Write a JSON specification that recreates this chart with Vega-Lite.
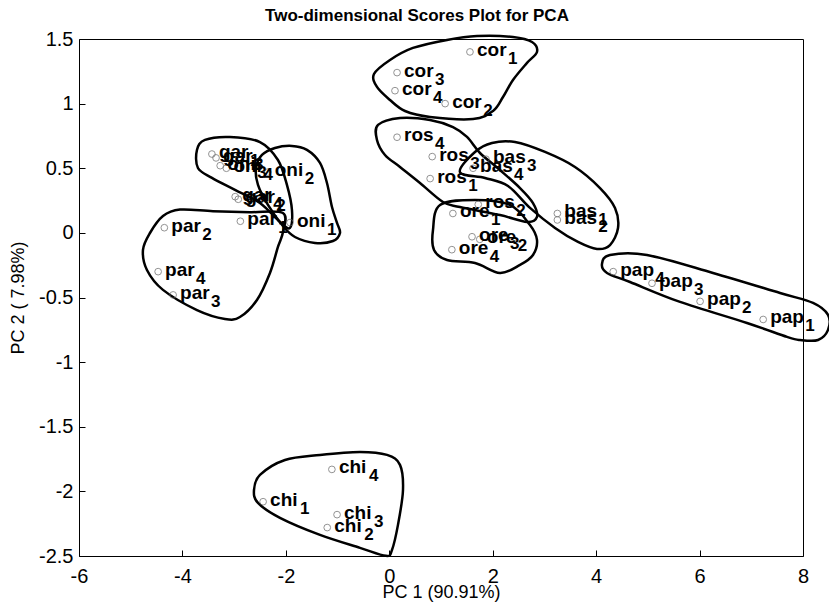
{
  "$schema": "https://vega.github.io/schema/vega-lite/v6.json",
  "width": 724,
  "height": 517,
  "autosize": {"type": "none"},
  "padding": {"left": 79, "top": 39, "right": 26, "bottom": 51},
  "background": "white",
  "title": {"text": "Two-dimensional Scores Plot for PCA", "font": "Liberation Sans", "fontSize": 17, "fontWeight": "bold", "color": "black", "offset": 4, "dx": -24},
  "config": {
    "view": {"stroke": "black", "strokeWidth": 1},
    "axis": {"grid": false, "domain": false, "tickColor": "black", "tickSize": -6, "tickWidth": 1, "labelFont": "Liberation Sans", "labelFontSize": 20, "labelColor": "black", "titleFont": "Liberation Sans", "titleFontSize": 18, "titleFontWeight": "normal", "titleColor": "black", "labelFlush": false}
  },
  "datasets": {
    "pts": [
      {"g": "cor", "s": "1", "x": 1.56, "y": 1.40},
      {"g": "cor", "s": "3", "x": 0.15, "y": 1.24},
      {"g": "cor", "s": "4", "x": 0.11, "y": 1.10},
      {"g": "cor", "s": "2", "x": 1.08, "y": 1.00},
      {"g": "ros", "s": "4", "x": 0.15, "y": 0.74},
      {"g": "ros", "s": "3", "x": 0.83, "y": 0.59},
      {"g": "ros", "s": "1", "x": 0.79, "y": 0.42},
      {"g": "ros", "s": "2", "x": 1.72, "y": 0.22},
      {"g": "bas", "s": "3", "x": 1.87, "y": 0.57},
      {"g": "bas", "s": "4", "x": 1.62, "y": 0.50},
      {"g": "bas", "s": "1", "x": 3.25, "y": 0.15},
      {"g": "bas", "s": "2", "x": 3.25, "y": 0.10},
      {"g": "ore", "s": "1", "x": 1.23, "y": 0.15},
      {"g": "ore", "s": "3", "x": 1.60, "y": -0.03},
      {"g": "ore", "s": "2", "x": 1.75, "y": -0.05},
      {"g": "ore", "s": "4", "x": 1.21, "y": -0.13},
      {"g": "pap", "s": "4", "x": 4.33, "y": -0.30},
      {"g": "pap", "s": "3", "x": 5.08, "y": -0.39},
      {"g": "pap", "s": "2", "x": 6.01, "y": -0.53},
      {"g": "pap", "s": "1", "x": 7.23, "y": -0.67},
      {"g": "chi", "s": "4", "x": -1.11, "y": -1.83},
      {"g": "chi", "s": "1", "x": -2.44, "y": -2.08},
      {"g": "chi", "s": "3", "x": -1.01, "y": -2.18},
      {"g": "chi", "s": "2", "x": -1.20, "y": -2.28},
      {"g": "par", "s": "2", "x": -4.35, "y": 0.04},
      {"g": "par", "s": "4", "x": -4.47, "y": -0.30},
      {"g": "par", "s": "3", "x": -4.18, "y": -0.48},
      {"g": "par", "s": "1", "x": -2.88, "y": 0.09},
      {"g": "oni", "s": "1", "x": -1.92, "y": 0.08},
      {"g": "oni", "s": "2", "x": -2.35, "y": 0.47},
      {"g": "oni", "s": "3", "x": -3.27, "y": 0.52},
      {"g": "oni", "s": "4", "x": -3.15, "y": 0.50},
      {"g": "gar", "s": "1", "x": -3.43, "y": 0.61},
      {"g": "gar", "s": "3", "x": -3.35, "y": 0.58},
      {"g": "gar", "s": "2", "x": -2.92, "y": 0.26},
      {"g": "gar", "s": "4", "x": -2.98, "y": 0.28}
    ],
    "ol": [
      {"o": "cor", "i": 0, "x": -0.296, "y": 1.229},
      {"o": "cor", "i": 1, "x": 0.014, "y": 1.338},
      {"o": "cor", "i": 2, "x": 0.458, "y": 1.431},
      {"o": "cor", "i": 3, "x": 1.116, "y": 1.493},
      {"o": "cor", "i": 4, "x": 1.696, "y": 1.523},
      {"o": "cor", "i": 5, "x": 2.392, "y": 1.516},
      {"o": "cor", "i": 6, "x": 2.760, "y": 1.477},
      {"o": "cor", "i": 7, "x": 2.856, "y": 1.400},
      {"o": "cor", "i": 8, "x": 2.663, "y": 1.315},
      {"o": "cor", "i": 9, "x": 2.392, "y": 1.183},
      {"o": "cor", "i": 10, "x": 2.199, "y": 1.051},
      {"o": "cor", "i": 11, "x": 2.006, "y": 0.943},
      {"o": "cor", "i": 12, "x": 1.619, "y": 0.881},
      {"o": "cor", "i": 13, "x": 0.787, "y": 0.897},
      {"o": "cor", "i": 14, "x": 0.304, "y": 0.943},
      {"o": "cor", "i": 15, "x": 0.014, "y": 1.028},
      {"o": "cor", "i": 16, "x": -0.238, "y": 1.129},

      {"o": "ros", "i": 0, "x": -0.218, "y": 0.835},
      {"o": "ros", "i": 1, "x": 0.207, "y": 0.889},
      {"o": "ros", "i": 2, "x": 0.787, "y": 0.874},
      {"o": "ros", "i": 3, "x": 1.232, "y": 0.819},
      {"o": "ros", "i": 4, "x": 1.503, "y": 0.742},
      {"o": "ros", "i": 5, "x": 1.754, "y": 0.618},
      {"o": "ros", "i": 6, "x": 2.141, "y": 0.486},
      {"o": "ros", "i": 7, "x": 2.528, "y": 0.347},
      {"o": "ros", "i": 8, "x": 2.779, "y": 0.231},
      {"o": "ros", "i": 9, "x": 2.856, "y": 0.123},
      {"o": "ros", "i": 10, "x": 2.663, "y": 0.084},
      {"o": "ros", "i": 11, "x": 2.141, "y": 0.138},
      {"o": "ros", "i": 12, "x": 1.367, "y": 0.200},
      {"o": "ros", "i": 13, "x": 1.039, "y": 0.239},
      {"o": "ros", "i": 14, "x": 0.594, "y": 0.386},
      {"o": "ros", "i": 15, "x": 0.207, "y": 0.510},
      {"o": "ros", "i": 16, "x": -0.083, "y": 0.603},
      {"o": "ros", "i": 17, "x": -0.238, "y": 0.719},

      {"o": "bas", "i": 0, "x": 1.367, "y": 0.470},
      {"o": "bas", "i": 1, "x": 1.657, "y": 0.626},
      {"o": "bas", "i": 2, "x": 1.986, "y": 0.696},
      {"o": "bas", "i": 3, "x": 2.431, "y": 0.703},
      {"o": "bas", "i": 4, "x": 3.011, "y": 0.626},
      {"o": "bas", "i": 5, "x": 3.591, "y": 0.510},
      {"o": "bas", "i": 6, "x": 4.075, "y": 0.347},
      {"o": "bas", "i": 7, "x": 4.365, "y": 0.193},
      {"o": "bas", "i": 8, "x": 4.423, "y": 0.038},
      {"o": "bas", "i": 9, "x": 4.268, "y": -0.094},
      {"o": "bas", "i": 10, "x": 4.017, "y": -0.124},
      {"o": "bas", "i": 11, "x": 3.649, "y": -0.070},
      {"o": "bas", "i": 12, "x": 3.205, "y": 0.038},
      {"o": "bas", "i": 13, "x": 2.721, "y": 0.193},
      {"o": "bas", "i": 14, "x": 2.296, "y": 0.363},
      {"o": "bas", "i": 15, "x": 1.851, "y": 0.425},

      {"o": "ore", "i": 0, "x": 0.981, "y": 0.216},
      {"o": "ore", "i": 1, "x": 1.657, "y": 0.255},
      {"o": "ore", "i": 2, "x": 2.334, "y": 0.216},
      {"o": "ore", "i": 3, "x": 2.721, "y": 0.061},
      {"o": "ore", "i": 4, "x": 2.856, "y": -0.055},
      {"o": "ore", "i": 5, "x": 2.779, "y": -0.171},
      {"o": "ore", "i": 6, "x": 2.528, "y": -0.248},
      {"o": "ore", "i": 7, "x": 2.141, "y": -0.310},
      {"o": "ore", "i": 8, "x": 1.657, "y": -0.233},
      {"o": "ore", "i": 9, "x": 1.116, "y": -0.210},
      {"o": "ore", "i": 10, "x": 0.865, "y": -0.132},
      {"o": "ore", "i": 11, "x": 0.845, "y": 0.022},

      {"o": "pap", "i": 0, "x": 4.113, "y": -0.241},
      {"o": "pap", "i": 1, "x": 4.268, "y": -0.171},
      {"o": "pap", "i": 2, "x": 4.983, "y": -0.171},
      {"o": "pap", "i": 3, "x": 6.260, "y": -0.310},
      {"o": "pap", "i": 4, "x": 7.556, "y": -0.465},
      {"o": "pap", "i": 5, "x": 8.194, "y": -0.542},
      {"o": "pap", "i": 6, "x": 8.484, "y": -0.635},
      {"o": "pap", "i": 7, "x": 8.484, "y": -0.751},
      {"o": "pap", "i": 8, "x": 8.291, "y": -0.829},
      {"o": "pap", "i": 9, "x": 7.942, "y": -0.829},
      {"o": "pap", "i": 10, "x": 7.691, "y": -0.805},
      {"o": "pap", "i": 11, "x": 6.917, "y": -0.697},
      {"o": "pap", "i": 12, "x": 5.622, "y": -0.534},
      {"o": "pap", "i": 13, "x": 4.655, "y": -0.380},
      {"o": "pap", "i": 14, "x": 4.210, "y": -0.310},

      {"o": "chi", "i": 0, "x": -2.501, "y": -1.873},
      {"o": "chi", "i": 1, "x": -2.017, "y": -1.757},
      {"o": "chi", "i": 2, "x": -1.340, "y": -1.718},
      {"o": "chi", "i": 3, "x": -0.567, "y": -1.695},
      {"o": "chi", "i": 4, "x": -0.044, "y": -1.718},
      {"o": "chi", "i": 5, "x": 0.207, "y": -1.795},
      {"o": "chi", "i": 6, "x": 0.265, "y": -1.989},
      {"o": "chi", "i": 7, "x": 0.168, "y": -2.259},
      {"o": "chi", "i": 8, "x": 0.052, "y": -2.453},
      {"o": "chi", "i": 9, "x": -0.064, "y": -2.499},
      {"o": "chi", "i": 10, "x": -0.567, "y": -2.437},
      {"o": "chi", "i": 11, "x": -1.340, "y": -2.337},
      {"o": "chi", "i": 12, "x": -2.114, "y": -2.205},
      {"o": "chi", "i": 13, "x": -2.539, "y": -2.089},
      {"o": "chi", "i": 14, "x": -2.616, "y": -1.989},

      {"o": "par", "i": 0, "x": -4.376, "y": 0.130},
      {"o": "par", "i": 1, "x": -4.048, "y": 0.180},
      {"o": "par", "i": 2, "x": -3.409, "y": 0.168},
      {"o": "par", "i": 3, "x": -2.694, "y": 0.160},
      {"o": "par", "i": 4, "x": -2.056, "y": 0.154},
      {"o": "par", "i": 5, "x": -2.056, "y": 0.007},
      {"o": "par", "i": 6, "x": -2.153, "y": -0.109},
      {"o": "par", "i": 7, "x": -2.307, "y": -0.310},
      {"o": "par", "i": 8, "x": -2.559, "y": -0.519},
      {"o": "par", "i": 9, "x": -2.888, "y": -0.651},
      {"o": "par", "i": 10, "x": -3.178, "y": -0.666},
      {"o": "par", "i": 11, "x": -3.719, "y": -0.597},
      {"o": "par", "i": 12, "x": -4.376, "y": -0.441},
      {"o": "par", "i": 13, "x": -4.686, "y": -0.287},
      {"o": "par", "i": 14, "x": -4.763, "y": -0.132},
      {"o": "par", "i": 15, "x": -4.628, "y": -0.001},

      {"o": "oni", "i": 0, "x": -2.462, "y": 0.603},
      {"o": "oni", "i": 1, "x": -2.211, "y": 0.657},
      {"o": "oni", "i": 2, "x": -1.882, "y": 0.673},
      {"o": "oni", "i": 3, "x": -1.592, "y": 0.642},
      {"o": "oni", "i": 4, "x": -1.340, "y": 0.541},
      {"o": "oni", "i": 5, "x": -1.205, "y": 0.386},
      {"o": "oni", "i": 6, "x": -1.108, "y": 0.200},
      {"o": "oni", "i": 7, "x": -1.011, "y": 0.077},
      {"o": "oni", "i": 8, "x": -0.953, "y": -0.001},
      {"o": "oni", "i": 9, "x": -1.089, "y": -0.063},
      {"o": "oni", "i": 10, "x": -1.437, "y": -0.078},
      {"o": "oni", "i": 11, "x": -1.824, "y": -0.032},
      {"o": "oni", "i": 12, "x": -2.056, "y": 0.053},
      {"o": "oni", "i": 13, "x": -2.346, "y": 0.216},
      {"o": "oni", "i": 14, "x": -2.539, "y": 0.371},
      {"o": "oni", "i": 15, "x": -2.578, "y": 0.503},

      {"o": "gar", "i": 0, "x": -3.719, "y": 0.641},
      {"o": "gar", "i": 1, "x": -3.564, "y": 0.719},
      {"o": "gar", "i": 2, "x": -3.081, "y": 0.742},
      {"o": "gar", "i": 3, "x": -2.501, "y": 0.703},
      {"o": "gar", "i": 4, "x": -2.153, "y": 0.564},
      {"o": "gar", "i": 5, "x": -1.979, "y": 0.371},
      {"o": "gar", "i": 6, "x": -1.882, "y": 0.177},
      {"o": "gar", "i": 7, "x": -1.921, "y": 0.038},
      {"o": "gar", "i": 8, "x": -2.114, "y": 0.084},
      {"o": "gar", "i": 9, "x": -2.501, "y": 0.231},
      {"o": "gar", "i": 10, "x": -2.984, "y": 0.332},
      {"o": "gar", "i": 11, "x": -3.429, "y": 0.425},
      {"o": "gar", "i": 12, "x": -3.700, "y": 0.502}
    ]
  },
  "layer": [
    {
      "data": {"name": "ol"},
      "mark": {"type": "line", "interpolate": "cardinal-closed", "color": "black", "strokeWidth": 2.5},
      "encoding": {
        "x": {"field": "x", "type": "quantitative", "scale": {"domain": [-6, 8], "nice": false, "zero": false}, "axis": {"title": "PC 1 (90.91%)", "values": [-6, -4, -2, 0, 2, 4, 6, 8], "labelExpr": "datum.value + ''", "labelPadding": 16, "titleY": 36, "titleBaseline": "middle"}},
        "y": {"field": "y", "type": "quantitative", "scale": {"domain": [-2.5, 1.5], "nice": false, "zero": false}, "axis": {"title": "PC 2 ( 7.98%)", "values": [-2.5, -2, -1.5, -1, -0.5, 0, 0.5, 1, 1.5], "labelExpr": "datum.value + ''", "labelPadding": 12, "titleX": -61, "titleBaseline": "middle"}},
        "detail": {"field": "o"},
        "order": {"field": "i", "type": "quantitative"}
      }
    },
    {
      "mark": {"type": "rule", "color": "black", "strokeWidth": 2.5},
      "encoding": {"y": {"datum": 0}}
    },
    {
      "mark": {"type": "rule", "color": "black", "strokeWidth": 2.5},
      "encoding": {"x": {"datum": 0}}
    },
    {
      "data": {"name": "pts"},
      "mark": {"type": "point", "shape": "circle", "filled": false, "size": 45, "stroke": "#666666", "strokeWidth": 1},
      "encoding": {"x": {"field": "x", "type": "quantitative"}, "y": {"field": "y", "type": "quantitative"}}
    },
    {
      "data": {"name": "pts"},
      "mark": {"type": "text", "align": "left", "baseline": "alphabetic", "dx": 7, "dy": 4, "font": "Liberation Sans", "fontSize": 19, "fontWeight": "bold", "color": "black"},
      "encoding": {"x": {"field": "x", "type": "quantitative"}, "y": {"field": "y", "type": "quantitative"}, "text": {"field": "g"}}
    },
    {
      "data": {"name": "pts"},
      "transform": [{"filter": {"field": "g", "oneOf": ["cor", "ros", "ore", "par", "gar"]}}],
      "mark": {"type": "text", "align": "left", "baseline": "alphabetic", "dx": 38, "dy": 12, "font": "Liberation Sans", "fontSize": 17, "fontWeight": "bold", "color": "black"},
      "encoding": {"x": {"field": "x", "type": "quantitative"}, "y": {"field": "y", "type": "quantitative"}, "text": {"field": "s"}}
    },
    {
      "data": {"name": "pts"},
      "transform": [{"filter": {"field": "g", "equal": "pap"}}],
      "mark": {"type": "text", "align": "left", "baseline": "alphabetic", "dx": 42, "dy": 12, "font": "Liberation Sans", "fontSize": 17, "fontWeight": "bold", "color": "black"},
      "encoding": {"x": {"field": "x", "type": "quantitative"}, "y": {"field": "y", "type": "quantitative"}, "text": {"field": "s"}}
    },
    {
      "data": {"name": "pts"},
      "transform": [{"filter": {"field": "g", "equal": "bas"}}],
      "mark": {"type": "text", "align": "left", "baseline": "alphabetic", "dx": 41, "dy": 12, "font": "Liberation Sans", "fontSize": 17, "fontWeight": "bold", "color": "black"},
      "encoding": {"x": {"field": "x", "type": "quantitative"}, "y": {"field": "y", "type": "quantitative"}, "text": {"field": "s"}}
    },
    {
      "data": {"name": "pts"},
      "transform": [{"filter": {"field": "g", "oneOf": ["chi", "oni"]}}],
      "mark": {"type": "text", "align": "left", "baseline": "alphabetic", "dx": 37, "dy": 12, "font": "Liberation Sans", "fontSize": 17, "fontWeight": "bold", "color": "black"},
      "encoding": {"x": {"field": "x", "type": "quantitative"}, "y": {"field": "y", "type": "quantitative"}, "text": {"field": "s"}}
    }
  ]
}
